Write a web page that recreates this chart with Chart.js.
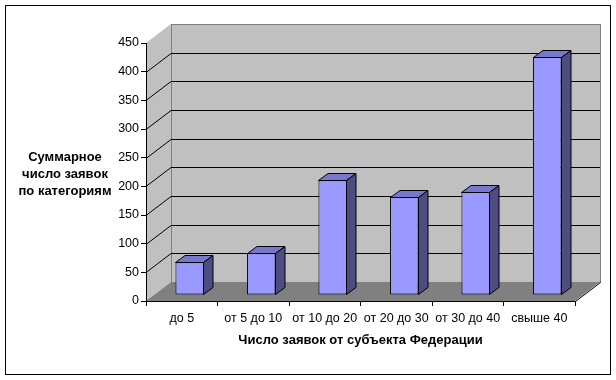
<!DOCTYPE html>
<html>
<head>
<meta charset="utf-8">
<script src="https://cdn.jsdelivr.net/npm/chart.js@4/dist/chart.umd.min.js"></script>
<style>
  html, body { margin: 0; padding: 0; background: #fff; }
  #wrap { width: 616px; height: 380px; }
</style>
</head>
<body>
<div id="wrap"><canvas id="grafico" width="616" height="380"></canvas></div>
<script>
// Данные диаграммы
const categorias = ['до 5', 'от 5 до 10', 'от 10 до 20', 'от 20 до 30', 'от 30 до 40', 'свыше 40'];
const zayavki = [57, 73, 200, 171, 180, 415];
const tituloY = ['Суммарное', 'число заявок', 'по категориям'];
const tituloX = 'Число заявок от субъекта Федерации';
const yMax = 450;
const yPaso = 50;

// Псевдо-3D параметры
const WALL_DX = 25, WALL_DY = -19;   // глубина стенок
const BAR_DX = 8, BAR_DY = -6;       // сдвиг столбиков вглубь
const DEPTH_DX = 9.5, DEPTH_DY = -7; // глубина самих столбиков

const fuente = "'Liberation Sans', Arial, sans-serif";

const paredes = {
  id: 'paredes',
  beforeDraw(chart) {
    const { ctx, chartArea: a, scales: { y } } = chart;
    const L = a.left, R = a.right, T = a.top, B = a.bottom;
    ctx.save();
    // боковая стенка
    ctx.fillStyle = '#C0C0C0';
    ctx.beginPath();
    ctx.moveTo(L, T); ctx.lineTo(L + WALL_DX, T + WALL_DY);
    ctx.lineTo(L + WALL_DX, B + WALL_DY); ctx.lineTo(L, B);
    ctx.closePath(); ctx.fill();
    // задняя стенка
    ctx.fillRect(L + WALL_DX, T + WALL_DY, R - L, B - T);
    ctx.strokeStyle = '#808080';
    ctx.lineWidth = 1;
    ctx.strokeRect(Math.round(L + WALL_DX) + 0.5, Math.round(T + WALL_DY) + 0.5, Math.round(R - L), Math.round(B - T));
    // линии сетки
    ctx.strokeStyle = '#000';
    y.ticks.forEach(t => {
      if (t.value <= 0 || t.value >= yMax) return;
      const py = Math.round(y.getPixelForValue(t.value)) + 0.5;
      ctx.beginPath();
      ctx.moveTo(L, py);
      ctx.lineTo(L + WALL_DX, py + WALL_DY);
      ctx.lineTo(R + WALL_DX, py + WALL_DY);
      ctx.stroke();
    });
    // пол
    ctx.fillStyle = '#808080';
    ctx.beginPath();
    ctx.moveTo(L, B); ctx.lineTo(L + WALL_DX, B + WALL_DY);
    ctx.lineTo(R + WALL_DX, B + WALL_DY); ctx.lineTo(R, B);
    ctx.closePath(); ctx.fill();
    ctx.strokeStyle = '#000';
    ctx.beginPath();
    ctx.moveTo(R + 0.5, B + 0.5); ctx.lineTo(R + WALL_DX + 0.5, B + WALL_DY + 0.5);
    ctx.stroke();
    ctx.restore();
  },
  beforeDatasetsDraw(chart) {
    chart.ctx.save();
    chart.ctx.translate(BAR_DX, BAR_DY);
  },
  afterDatasetsDraw(chart) {
    const ctx = chart.ctx;
    ctx.lineWidth = 1;
    ctx.strokeStyle = '#000';
    chart.getDatasetMeta(0).data.forEach(bar => {
      const l = Math.round(bar.x - bar.width / 2), r = Math.round(bar.x + bar.width / 2);
      const t = Math.round(bar.y), b = Math.round(bar.base);
      // верх
      ctx.fillStyle = '#7777CC';
      ctx.beginPath();
      ctx.moveTo(l + 0.5, t + 0.5); ctx.lineTo(r - 0.5, t + 0.5);
      ctx.lineTo(r - 0.5 + DEPTH_DX, t + 0.5 + DEPTH_DY); ctx.lineTo(l + 0.5 + DEPTH_DX, t + 0.5 + DEPTH_DY);
      ctx.closePath(); ctx.fill(); ctx.stroke();
      // бок
      ctx.fillStyle = '#4D4D80';
      ctx.beginPath();
      ctx.moveTo(r - 0.5, t + 0.5); ctx.lineTo(r - 0.5 + DEPTH_DX, t + 0.5 + DEPTH_DY);
      ctx.lineTo(r - 0.5 + DEPTH_DX, b - 0.5 + DEPTH_DY); ctx.lineTo(r - 0.5, b - 0.5);
      ctx.closePath(); ctx.fill(); ctx.stroke();
    });
    ctx.restore();
  },
  afterDraw(chart) {
    const { ctx, chartArea: a } = chart;
    ctx.save();
    // подпись оси Y (горизонтально)
    ctx.fillStyle = '#000';
    ctx.font = 'bold 13px ' + fuente;
    ctx.textAlign = 'center';
    ctx.textBaseline = 'middle';
    const cy = (a.top + a.bottom) / 2 + 2;
    tituloY.forEach((s, i) => ctx.fillText(s, 65, cy + (i - 1) * 17));
    // рамка
    ctx.strokeStyle = '#000';
    ctx.lineWidth = 1;
    ctx.strokeRect(5.5, 5.5, 605, 369);
    ctx.restore();
  }
};

new Chart(document.getElementById('grafico'), {
  type: 'bar',
  data: {
    labels: categorias,
    datasets: [{
      data: zayavki,
      backgroundColor: '#9999FF',
      borderColor: '#000',
      borderWidth: 1,
      borderSkipped: false,
      barPercentage: 0.4,
      categoryPercentage: 1,
      clip: false
    }]
  },
  options: {
    responsive: false,
    animation: false,
    layout: { padding: { top: 43, right: 41, left: 0, bottom: 0 } },
    plugins: { legend: { display: false }, tooltip: { enabled: false } },
    scales: {
      x: {
        afterFit: s => { s.height = 79; },
        grid: { drawOnChartArea: false, drawTicks: true, tickLength: 5, color: '#000', offset: true },
        border: { color: '#000' },
        ticks: { color: '#000', font: { size: 12.5, family: fuente }, padding: 5, maxRotation: 0, autoSkip: false },
        title: { display: true, text: tituloX, color: '#000', font: { size: 13, weight: 'bold', family: fuente }, padding: { bottom: 32 } }
      },
      y: {
        min: 0,
        max: yMax,
        afterFit: s => { s.width = 146; },
        grid: { drawOnChartArea: false, drawTicks: true, tickLength: 5, color: '#000' },
        border: { color: '#000' },
        ticks: { stepSize: yPaso, color: '#000', font: { size: 12.5, family: fuente }, padding: 2 }
      }
    }
  },
  plugins: [paredes]
});
</script>
</body>
</html>
